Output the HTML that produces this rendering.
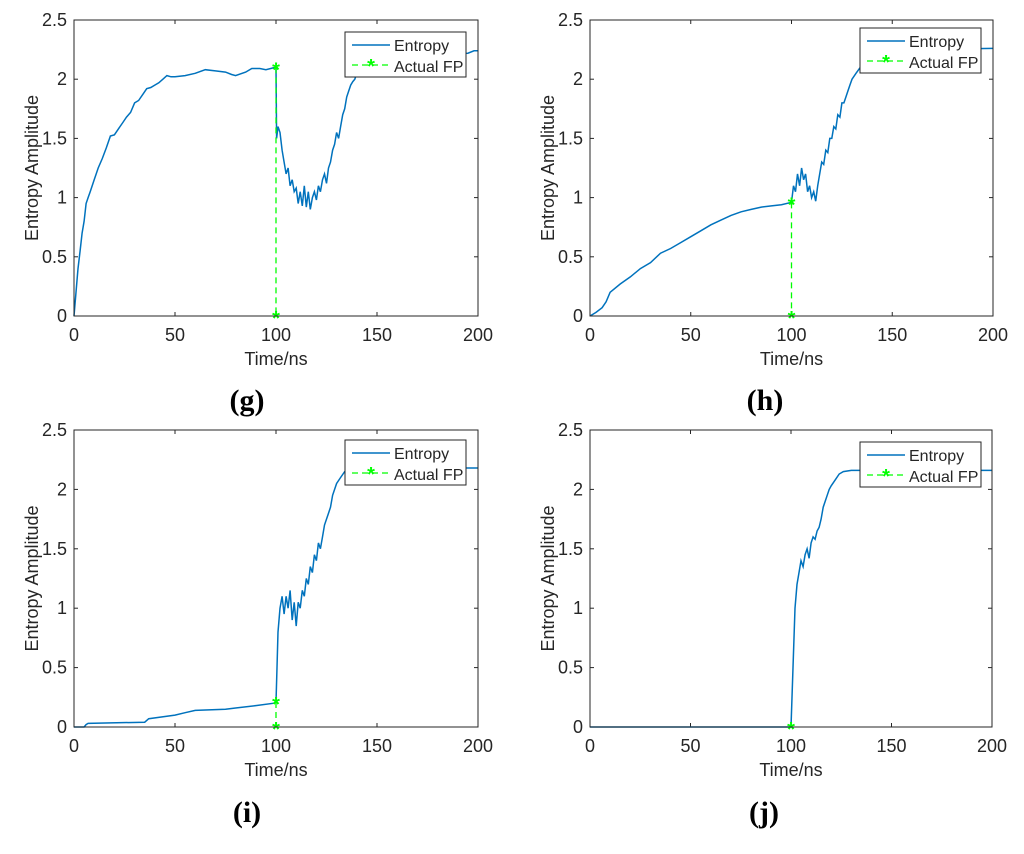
<!DOCTYPE html>
<html><head><meta charset="utf-8"><style>
body{margin:0;background:#fff;}
svg text{font-family:"Liberation Sans",sans-serif;fill:#262626;}
</style></head><body>
<svg id="fig" width="1024" height="849" viewBox="0 0 1024 849" xmlns="http://www.w3.org/2000/svg"></svg>
<script>
// Panel data
const gX=[0,1,2,3,4,5,6,7,8,10,12,14,16,18,20,22,24,26,28,30,32,34,36,38,40,42,44,46,48,50,55,60,65,70,75,78,80,85,88,92,95,99.5,100,100.3,101,102,103,104,105,106,107,108,109,110,111,112,113,114,115,116,117,118,119,120,121,122,123,124,125,126,127,128,129,130,131,132,133,134,135,136,137,138,139,140,142,150,160,180,195,198,200];
const gY=[0,0.2,0.4,0.55,0.7,0.8,0.95,1.0,1.05,1.15,1.25,1.33,1.42,1.52,1.53,1.58,1.63,1.68,1.72,1.8,1.82,1.87,1.92,1.93,1.95,1.97,2.0,2.03,2.02,2.02,2.03,2.05,2.08,2.07,2.06,2.04,2.03,2.06,2.09,2.09,2.08,2.1,2.1,1.5,1.6,1.55,1.4,1.3,1.2,1.25,1.1,1.15,1.05,1.08,0.95,1.05,0.93,1.1,0.92,1.05,0.9,1.0,1.05,0.98,1.1,1.05,1.15,1.2,1.12,1.25,1.3,1.4,1.45,1.55,1.5,1.6,1.7,1.75,1.85,1.9,1.95,1.98,2.0,2.05,2.1,2.18,2.2,2.21,2.22,2.24,2.24];
const hX=[0,3,6,8,10,15,20,25,30,35,40,45,50,55,60,65,70,75,80,85,90,95,100,101,102,103,104,105,106,107,108,109,110,111,112,113,114,115,116,117,118,119,120,121,122,123,124,125,126,127,128,129,130,132,135,140,160,200];
const hY=[0,0.03,0.07,0.12,0.2,0.27,0.33,0.4,0.45,0.53,0.57,0.62,0.67,0.72,0.77,0.81,0.85,0.88,0.9,0.92,0.93,0.94,0.96,1.1,1.05,1.2,1.1,1.25,1.15,1.2,1.05,1.1,1.0,1.05,0.97,1.1,1.2,1.3,1.28,1.4,1.38,1.5,1.5,1.6,1.58,1.7,1.68,1.8,1.8,1.85,1.9,1.95,2.0,2.05,2.12,2.2,2.25,2.26];
const iX=[0,5,6,7,35,37,50,55,60,75,80,90,99,100,100.5,101,102,103,104,105,106,107,108,109,110,111,112,113,114,115,116,117,118,119,120,121,122,123,124,125,126,127,128,129,130,132,134,136,200];
const iY=[0,0,0.02,0.03,0.04,0.07,0.1,0.12,0.14,0.15,0.16,0.18,0.2,0.21,0.5,0.8,1.0,1.1,0.95,1.1,1.0,1.15,0.9,1.05,0.85,1.05,1.0,1.15,1.1,1.25,1.2,1.35,1.3,1.45,1.4,1.55,1.5,1.6,1.7,1.75,1.8,1.85,1.95,2.0,2.05,2.1,2.15,2.18,2.18];
const jX=[0,100,101,102,103,104,105,106,107,108,109,110,111,112,113,114,115,116,117,118,119,120,122,124,126,130,200];
const jY=[0,0,0.5,1.0,1.2,1.3,1.4,1.35,1.45,1.5,1.42,1.55,1.6,1.58,1.65,1.68,1.75,1.85,1.9,1.95,2.0,2.03,2.08,2.13,2.15,2.16,2.16];
const fpG=[2.1,0], fpH=[0.96,0], fpI=[0.21,0], fpJ=[0];
const fpX=100;
const xTicks=[0,50,100,150,200];
const yTicks=[0,0.5,1,1.5,2,2.5];
const yTickLabels=["0","0.5","1","1.5","2","2.5"];

const NS="http://www.w3.org/2000/svg";
const svg=document.getElementById('fig');
function el(tag,attrs,parent,text){const e=document.createElementNS(NS,tag);for(const k in attrs)e.setAttribute(k,attrs[k]);if(text!==undefined)e.textContent=text;(parent||svg).appendChild(e);return e;}

const panels=[
 {id:'g',L:74,R:478,T:20,B:316,xs:gX,ys:gY,fp:fpG,lx:345,ly:32,lab:'(g)',labX:247,labY:410},
 {id:'h',L:590,R:993,T:20,B:316,xs:hX,ys:hY,fp:fpH,lx:860,ly:28,lab:'(h)',labX:765,labY:410},
 {id:'i',L:74,R:478,T:430,B:727,xs:iX,ys:iY,fp:fpI,lx:345,ly:440,lab:'(i)',labX:247,labY:822},
 {id:'j',L:590,R:992,T:430,B:727,xs:jX,ys:jY,fp:fpJ,lx:860,ly:442,lab:'(j)',labX:764,labY:822}
];
panels.forEach(p=>{
 const g=el('g',{});
 
 
 const sx=v=>p.L+(v-0)/200*(p.R-p.L);
 const sy=v=>p.B-(v/2.5)*(p.B-p.T);
 const bg=el('rect',{x:p.L,y:p.T,width:p.R-p.L,height:p.B-p.T,fill:'#fff',stroke:'none'},g);
 
 
 xTicks.forEach(t=>{
  const x=sx(t);
  el('line',{x1:x,y1:p.B,x2:x,y2:p.B-4,stroke:'#262626','stroke-width':1},g);
  el('line',{x1:x,y1:p.T,x2:x,y2:p.T+4,stroke:'#262626','stroke-width':1},g);
  const tl=el('text',{x:x,y:p.B+25,'font-size':18,'text-anchor':'middle'},g,String(t));
  
  
 });
 yTicks.forEach((t,k)=>{
  const y=sy(t);
  el('line',{x1:p.L,y1:y,x2:p.L+4,y2:y,stroke:'#262626','stroke-width':1},g);
  el('line',{x1:p.R,y1:y,x2:p.R-4,y2:y,stroke:'#262626','stroke-width':1},g);
  const tl=el('text',{x:p.L-7,y:y+6,'font-size':18,'text-anchor':'end'},g,yTickLabels[k]);
  
  
 });
 const pts=p.xs.map((x,k)=>sx(x).toFixed(1)+','+sy(p.ys[k]).toFixed(1)).join(' ');
 const ln=el('polyline',{points:pts,fill:'none',stroke:'#0072BD','stroke-width':1.5},g);
 
 
 const fx=sx(fpX);
 if(p.fp.length>1){
  const fl=el('line',{x1:fx,y1:sy(p.fp[0]),x2:fx,y2:sy(p.fp[p.fp.length-1]),stroke:'#00ff00','stroke-width':1.3,'stroke-dasharray':'6,4'},g);
  
  
 }
 p.fp.forEach(v=>{
  const m=el('text',{x:fx,y:sy(v)+9,'font-size':20,'text-anchor':'middle',style:'fill:#00ff00;font-weight:bold'},g,'*');
  
  
 });
 const ax=el('rect',{x:p.L,y:p.T,width:p.R-p.L,height:p.B-p.T,fill:'none',stroke:'#262626','stroke-width':1},g);
 
 
 const lg=el('g',{},g);
 
 
 el('rect',{x:p.lx,y:p.ly,width:121,height:45,fill:'#fff',stroke:'#262626','stroke-width':1},lg);
 el('line',{x1:p.lx+7,y1:p.ly+13,x2:p.lx+45,y2:p.ly+13,stroke:'#0072BD','stroke-width':1.5},lg);
 const e1=el('text',{x:p.lx+49,y:p.ly+19,'font-size':16},lg,'Entropy');
 
 
 el('line',{x1:p.lx+7,y1:p.ly+33,x2:p.lx+45,y2:p.ly+33,stroke:'#00ff00','stroke-width':1.3,'stroke-dasharray':'6,4'},lg);
 el('text',{x:p.lx+26,y:p.ly+41,'font-size':20,'text-anchor':'middle',style:'fill:#00ff00;font-weight:bold'},lg,'*');
 const e2=el('text',{x:p.lx+49,y:p.ly+40,'font-size':16},lg,'Actual FP');
 
 
 const xl=el('text',{x:(p.L+p.R)/2,y:p.B+49,'font-size':18,'text-anchor':'middle'},g,'Time/ns');
 
 
 const yc=(p.T+p.B)/2, yx=p.L-36;
 const yl=el('text',{x:yx,y:yc,'font-size':18,'text-anchor':'middle',transform:'rotate(-90 '+yx+' '+yc+')'},g,'Entropy Amplitude');
 
 
 const pl=el('text',{x:p.labX,y:p.labY,'font-size':30,'text-anchor':'middle',style:'font-family:"Liberation Serif",serif;font-weight:bold;fill:#000'},g,p.lab);
 
 
});
</script>
</body></html>
